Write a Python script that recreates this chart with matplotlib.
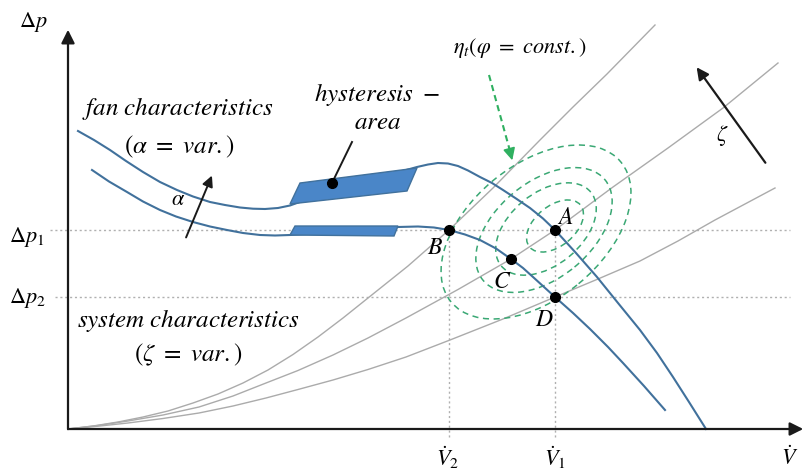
import matplotlib.pyplot as plt
from matplotlib.patches import Ellipse, Polygon

plt.rcParams['mathtext.fontset'] = 'stix'
plt.rcParams['font.family'] = 'STIXGeneral'

# Werte (Ursprung = Achsenursprung, Einheit ~ 1 px)
dp1 = 199
dp2 = 132
v2 = 381
v1 = 487

# Anlagenkennlinien (zeta = var.)
sys1_x = [0, 25, 50, 75, 100, 125, 150, 175, 200, 225, 250, 275, 300, 340, 381, 425, 472, 505, 539, 587]
sys1_y = [0, 3, 7, 12, 18, 26, 35, 46, 59, 74.5, 92, 111, 131, 163, 199, 241, 289, 322, 355, 404]
sys2_x = [0, 30, 60, 95, 131, 165, 198, 230, 265, 300, 338, 390, 443, 487, 545, 600, 655, 710]
sys2_y = [0, 3.5, 8, 14, 22, 33, 46, 58.5, 74, 91, 111, 139.5, 170, 199, 242, 281, 321, 366]
sys3_x = [0, 30, 60, 95, 131, 165, 198, 230, 265, 300, 338, 382, 435, 487, 530, 572, 610, 647, 707]
sys3_y = [0, 2.8, 6, 10.5, 16, 23, 31, 39.5, 49, 59.5, 72, 89, 110, 132, 150, 168, 188, 209, 241]

# Ventilatorkennlinien (alpha = var.)
fan_hi_x = [10, 26, 42, 58, 75, 92, 109, 125, 142, 157, 172, 185, 197, 210, 222, 240, 287, 320,
            349, 360, 370, 380, 390, 400, 412, 424, 435, 448, 462, 475, 487, 508, 529, 550, 572,
            589, 605, 621, 638]
fan_hi_y = [298, 289, 279, 268, 257, 247, 239, 232.5, 227, 224, 221.5, 220.3, 220, 221, 223.5, 230,
            245, 254, 262, 264.5, 266, 265.5, 263, 258.5, 252, 246, 239, 230.5, 221, 210.5, 199,
            176, 152, 126, 99, 76, 52, 27, 0]
fan_lo_x = [24, 41, 59, 75, 92, 108, 125, 142, 159, 175, 192, 207, 222, 272, 330, 350, 366, 381,
            397, 412, 428, 443, 455, 465, 476, 487, 505, 522, 540, 555, 576, 597]
fan_lo_y = [259, 247.5, 237, 227.5, 219, 212.5, 207, 202.5, 199, 196, 194, 193.5, 194, 197, 202,
            202.5, 201.5, 199, 194.5, 189, 180.5, 170, 161, 152, 142, 132, 116, 100, 82, 66, 43, 19]

# Hysterese-Flaechen
hyst_hi = [(222, 225), (232, 246), (349, 261), (339, 238)]
hyst_lo = [(222, 194), (227, 203), (330, 203), (326, 193)]

# Betriebspunkte
pt_names = ['A', 'B', 'C', 'D']
pt_x = [487, 381, 443, 487]
pt_y = [199, 199, 170, 132]

# Wirkungsgrad-Muschelkurven: (x, y, Breite, Hoehe)
eta_cx = [468, 476, 478, 487]
eta_cy = [197, 199, 200, 203]
eta_w = [220, 158, 116, 66]
eta_h = [134, 96, 72, 40]
eta_angle = 39.5

blue = '#41719c'
fill = '#4a86c8'
green = '#3aa874'
grey = '#ababab'
black = '#1a1a1a'

fig = plt.figure(figsize=(8.06, 4.72), dpi=100)
ax = fig.add_axes([0, 0, 1, 1])
ax.set_xlim(-68, 738)
ax.set_ylim(-43, 429)
ax.axis('off')

# Hilfslinien
dot = (0, (1.5, 2))
ax.plot([-18, 722], [dp1, dp1], ls=dot, color='#b0b0b0', lw=1, zorder=1)
ax.plot([-13, 722], [dp2, dp2], ls=dot, color='#b0b0b0', lw=1, zorder=1)
ax.plot([v2, v2], [-8, dp1], ls=dot, color='#b0b0b0', lw=1, zorder=1)
ax.plot([v1, v1], [-8, dp1], ls=dot, color='#b0b0b0', lw=1, zorder=1)

# Anlagenkennlinien
for xs, ys in [(sys1_x, sys1_y), (sys2_x, sys2_y), (sys3_x, sys3_y)]:
    ax.plot(xs, ys, color=grey, lw=1.0, zorder=1)

# Muschelkurven
for cx, cy, w, h in zip(eta_cx, eta_cy, eta_w, eta_h):
    ax.add_patch(Ellipse((cx, cy), w, h, angle=eta_angle, fill=False,
                         ec=green, lw=1.1, ls=(0, (4, 3)), zorder=2))

# Ventilatorkennlinien
ax.plot(fan_hi_x, fan_hi_y, color=blue, lw=1.5, zorder=3, solid_joinstyle='round')
ax.plot(fan_lo_x, fan_lo_y, color=blue, lw=1.5, zorder=3, solid_joinstyle='round')
ax.add_patch(Polygon(hyst_hi, closed=True, fc=fill, ec=blue, lw=1, zorder=4))
ax.add_patch(Polygon(hyst_lo, closed=True, fc=fill, ec=blue, lw=1, zorder=4))

# Betriebspunkte
ax.plot(pt_x, pt_y, 'o', color='black', ms=7, zorder=5)
lbl_off = {'A': (10, 12), 'B': (-14, -18), 'C': (-9, -23), 'D': (-11, -23)}
for n, x, y in zip(pt_names, pt_x, pt_y):
    dx, dy = lbl_off[n]
    ax.text(x + dx, y + dy, '$' + n + '$', fontsize=17, ha='center', va='center', zorder=6)

# Achsen
ax.annotate('', xy=(0, 402), xytext=(0, -3),
            arrowprops=dict(arrowstyle='-|>', mutation_scale=20, lw=1.6, color=black))
ax.annotate('', xy=(738, 0), xytext=(-2, 0),
            arrowprops=dict(arrowstyle='-|>', mutation_scale=20, lw=1.6, color=black))

# Pfeile
ax.annotate('', xy=(145, 256), xytext=(117, 189),
            arrowprops=dict(arrowstyle='-|>', mutation_scale=16, lw=1.4, color=black))
ax.annotate('', xy=(627, 364), xytext=(699, 264),
            arrowprops=dict(arrowstyle='-|>', mutation_scale=18, lw=1.6, color=black))
ax.plot([284, 264], [287, 246], color=black, lw=1.4, zorder=5)
ax.plot([264], [246], 'o', color='black', ms=7, zorder=5)
ax.plot([421, 442], [354, 278], color='#2fb060', lw=1.5, ls=(0, (3, 2)), zorder=5)
ax.annotate('', xy=(445, 266), xytext=(441, 281),
            arrowprops=dict(arrowstyle='-|>', mutation_scale=18, lw=1.2, color='#2fb060'))

# Beschriftungen
fs = 16
ft = 18
ax.text(-35, 407, r'$\Delta p$', fontsize=fs, ha='center', va='center')
ax.text(-41, 192, r'$\Delta p_1$', fontsize=fs, ha='center', va='center')
ax.text(-41, 131, r'$\Delta p_2$', fontsize=fs, ha='center', va='center')
ax.text(380, -29, r'$\dot{V}_2$', fontsize=fs, ha='center', va='center')
ax.text(487, -29, r'$\dot{V}_1$', fontsize=fs, ha='center', va='center')
ax.text(722, -29, r'$\dot{V}$', fontsize=fs, ha='center', va='center')
ax.text(110, 321, r'$fan\ characteristics$', fontsize=ft, ha='center', va='center')
ax.text(111, 282, r'$(\alpha\ =\ var.)$', fontsize=ft, ha='center', va='center')
ax.text(110, 229, r'$\alpha$', fontsize=fs, ha='center', va='center')
ax.text(309, 334, r'$hysteresis\ -$', fontsize=ft, ha='center', va='center')
ax.text(310, 306, r'$area$', fontsize=ft, ha='center', va='center')
ax.text(452, 381, r'$\eta_t(\varphi\ =\ const.)$', fontsize=fs, ha='center', va='center')
ax.text(654, 294, r'$\zeta$', fontsize=fs, ha='center', va='center')
ax.text(120, 109, r'$system\ characteristics$', fontsize=ft, ha='center', va='center')
ax.text(120, 74, r'$(\zeta\ =\ var.)$', fontsize=ft, ha='center', va='center')

plt.savefig('out.png', dpi=100)
